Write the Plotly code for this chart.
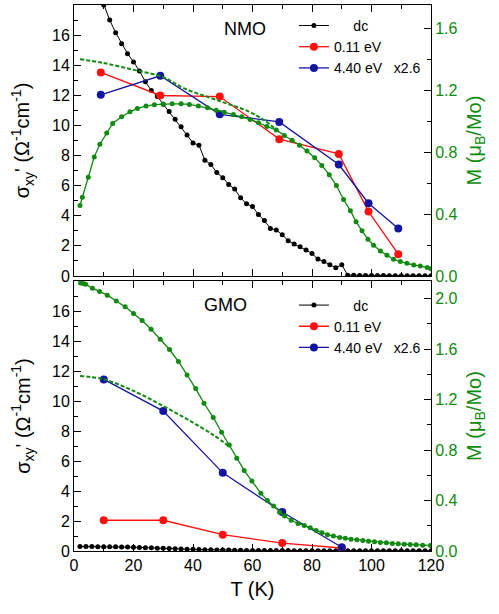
import plotly.graph_objects as go

# ---------------- NMO (top panel) ----------------
nmo_dc_T = [8, 10, 12, 14, 16, 18, 20, 22, 24, 26, 28, 30, 32, 34, 36, 38, 40, 42, 44, 46, 48, 50,
            52, 54, 56, 58, 60, 62, 64, 66, 68, 70, 72, 74, 76, 78, 80, 82, 84, 86, 88, 90, 92,
            94, 96, 98, 100, 102, 104, 106, 108, 110, 112, 114, 116, 118, 120]
nmo_dc_v = [19.1, 18.0, 17.0, 16.16, 15.42, 14.77, 14.22, 13.62, 12.9, 12.32, 11.92, 11.41, 10.92,
            10.41, 9.91, 9.36, 8.84, 8.69, 7.69, 7.40, 6.87, 6.53, 6.08, 5.77, 5.19, 4.79, 4.61,
            4.08, 3.68, 3.16, 3.05, 2.74, 2.34, 2.12, 1.94, 1.72, 1.49, 1.12, 0.96, 0.74, 0.55,
            0.74, 0.05, 0.05, 0.04, 0.04, 0.03, 0.03, 0.03, 0.02, 0.02, 0.02, 0.02, 0.02, 0.02,
            0.02, 0.02]

nmo_opt_T = [9, 29, 49, 69, 89, 99, 109]
nmo_011 = [13.52, 11.99, 11.92, 9.09, 8.11, 4.28, 1.45]
nmo_440 = [12.03, 13.30, 10.74, 10.23, 7.40, 4.83, 3.16]

nmo_M_T = [2.0, 2.8, 4.8, 6.8, 8.7, 11.0, 13.0, 16.0, 18.8, 21.3, 24.2, 27.0, 29.9, 33.0, 36.0,
           38.8, 41.8, 44.9, 47.8, 50.5, 53.6, 56.4, 59.2, 62.0, 64.8, 68.0, 70.7, 73.3, 75.8,
           78.3, 80.9, 83.3, 85.8, 88.2, 90.6, 92.9, 94.8, 96.8, 98.8, 100.7, 103.0, 105.2,
           107.4, 109.7, 111.9, 114.2, 116.4, 118.7, 120.0]
nmo_M = [0.455, 0.508, 0.638, 0.768, 0.851, 0.924, 0.985, 1.028, 1.060, 1.082, 1.097, 1.106,
         1.110, 1.112, 1.112, 1.108, 1.097, 1.086, 1.071, 1.058, 1.043, 1.028, 1.011, 0.989,
         0.966, 0.942, 0.907, 0.877, 0.844, 0.807, 0.764, 0.714, 0.654, 0.584, 0.494, 0.422,
         0.351, 0.292, 0.238, 0.199, 0.162, 0.134, 0.108, 0.093, 0.082, 0.071, 0.065, 0.054,
         0.047]

nmo_fit_T = [2, 10, 20, 30, 37, 48, 59, 64, 68]
nmo_fit_M = [1.40, 1.375, 1.331, 1.284, 1.212, 1.136, 1.060, 1.005, 0.945]

# ---------------- GMO (bottom panel) ----------------
gmo_dc_T = [2, 4, 6, 8, 10, 12, 14, 16, 18, 20, 22, 24, 26, 28, 30, 32, 34, 36, 38, 40, 42, 44,
            46, 48, 50, 52, 54, 56, 58, 60, 62, 64, 66, 68, 70, 72, 74, 76, 78, 80, 82, 84, 86,
            88, 90, 92, 94, 96, 98, 100, 102, 104, 106, 108, 110, 112, 114, 116, 118, 120]
gmo_dc_v = [0.30, 0.30, 0.30, 0.29, 0.29, 0.28, 0.28, 0.27, 0.26, 0.25, 0.24, 0.22, 0.21, 0.19,
            0.18, 0.16, 0.15, 0.13, 0.12, 0.11, 0.10, 0.09, 0.08, 0.07, 0.06, 0.06, 0.05, 0.05,
            0.04, 0.04, 0.03, 0.03, 0.03, 0.03, 0.03, 0.03, 0.02, 0.02, 0.02, 0.02, 0.02, 0.02,
            0.02, 0.02, 0.02, 0.02, 0.02, 0.02, 0.02, 0.02, 0.02, 0.02, 0.02, 0.02, 0.02, 0.02,
            0.02, 0.02, 0.02, 0.02]

gmo_opt_T = [10, 30, 50, 70, 90]
gmo_011 = [2.05, 2.05, 1.09, 0.53, 0.20]
gmo_440 = [11.44, 9.33, 5.21, 2.60, 0.25]

gmo_M_T = [2.2, 3.1, 3.9, 6.2, 8.6, 11.2, 14.2, 17.2, 20.0, 22.9, 25.9, 29.0, 32.1, 35.1, 38.0,
           40.9, 43.7, 46.8, 49.6, 52.2, 54.7, 57.2, 59.8, 62.8, 65.0, 67.1, 69.1, 70.8, 73.0,
           75.3, 77.4, 79.4, 81.4, 83.3, 85.2, 87.2, 89.3, 91.2, 93.1, 95.1, 97.1, 99.0, 101.0,
           103.0, 105.0, 107.0, 109.0, 111.0, 113.0, 115.0, 117.2, 119.8]
gmo_M = [2.124, 2.120, 2.115, 2.083, 2.057, 2.028, 1.982, 1.935, 1.882, 1.827, 1.758, 1.679,
         1.597, 1.502, 1.395, 1.287, 1.171, 1.059, 0.941, 0.840, 0.736, 0.639, 0.554, 0.457,
         0.401, 0.356, 0.308, 0.277, 0.244, 0.218, 0.203, 0.184, 0.163, 0.144, 0.129, 0.118,
         0.107, 0.102, 0.094, 0.089, 0.083, 0.078, 0.073, 0.067, 0.065, 0.059, 0.057, 0.054,
         0.051, 0.049, 0.046, 0.044]

gmo_fit_T = [2, 10, 20, 30, 39, 47, 52]
gmo_fit_M = [1.387, 1.361, 1.269, 1.149, 1.031, 0.917, 0.832]

NB = "\u00a0"
legend_names = [NB * 5 + "dc", "0.11 eV", "4.40 eV" + NB * 3 + "x2.6"]
left_ticks = [0, 2, 4, 6, 8, 10, 12, 14, 16]

BLACK = "#000000"
RED = "#ff1010"
BLUE = "#1414a0"
GREEN = "#108a10"
FONT = "Liberation Sans, Arial, sans-serif"

fig = go.Figure()

def add_panel(xa, ya_left, ya_right, legend, dcT, dcv, optT, v011, v440, MT, M, fT, fM):
    fig.add_trace(go.Scatter(x=dcT, y=dcv, mode="lines+markers", name=legend_names[0],
                             line=dict(color=BLACK, width=1), marker=dict(color=BLACK, size=5),
                             xaxis=xa, yaxis=ya_left, legend=legend))
    fig.add_trace(go.Scatter(x=optT, y=v011, mode="lines+markers", name=legend_names[1],
                             line=dict(color=RED, width=1.3), marker=dict(color=RED, size=8),
                             xaxis=xa, yaxis=ya_left, legend=legend))
    fig.add_trace(go.Scatter(x=optT, y=v440, mode="lines+markers", name=legend_names[2],
                             line=dict(color=BLUE, width=1.3), marker=dict(color=BLUE, size=8),
                             xaxis=xa, yaxis=ya_left, legend=legend))
    fig.add_trace(go.Scatter(x=fT, y=fM, mode="lines", showlegend=False,
                             line=dict(color=GREEN, width=2, dash="4px,2px", shape="spline"),
                             xaxis=xa, yaxis=ya_right))
    fig.add_trace(go.Scatter(x=MT, y=M, mode="lines+markers", showlegend=False,
                             line=dict(color=GREEN, width=1.3), marker=dict(color=GREEN, size=5),
                             xaxis=xa, yaxis=ya_right))

add_panel("x2", "y3", "y4", "legend", nmo_dc_T, nmo_dc_v, nmo_opt_T, nmo_011, nmo_440,
          nmo_M_T, nmo_M, nmo_fit_T, nmo_fit_M)
add_panel("x", "y", "y2", "legend2", gmo_dc_T, gmo_dc_v, gmo_opt_T, gmo_011, gmo_440,
          gmo_M_T, gmo_M, gmo_fit_T, gmo_fit_M)

TOP_DOM = [0.5037, 1.0]
BOT_DOM = [0.0, 0.4945]

xcommon = dict(range=[0, 120], dtick=20, ticks="inside", ticklen=7, tickcolor=BLACK,
               showline=True, linecolor=BLACK, linewidth=1, mirror="ticks", showgrid=False,
               zeroline=False, automargin=False,
               minor=dict(dtick=10, ticks="inside", ticklen=4, tickcolor=BLACK),
               tickfont=dict(size=16, color=BLACK))
yleft = dict(range=[0, 18], tickmode="array", tickvals=left_ticks, ticks="inside", ticklen=7,
             tickcolor=BLACK, showline=True, linecolor=BLACK, linewidth=1, showgrid=False,
             zeroline=False, automargin=False,
             minor=dict(tickmode="linear", tick0=0, dtick=1, ticks="inside", ticklen=4,
                        tickcolor=BLACK),
             tickfont=dict(size=16, color=BLACK),
             title=dict(text="σ<sub>xy</sub>' (Ω<sup>-1</sup>cm<sup>-1</sup>)", font=dict(size=20),
                        standoff=16))
yright = dict(dtick=0.4, tickformat=".1f", ticks="inside", ticklen=7, tickcolor=BLACK,
              showline=True, linecolor=BLACK, linewidth=1, showgrid=False, zeroline=False,
              automargin=False, side="right",
              minor=dict(dtick=0.2, ticks="inside", ticklen=4, tickcolor=BLACK),
              tickfont=dict(size=16, color=GREEN),
              title=dict(text="M (μ<sub>B</sub>/Mo)", font=dict(size=20, color=GREEN), standoff=10))

fig.update_layout(
    width=499, height=614,
    margin=dict(l=74, r=68, t=5, b=63),
    paper_bgcolor="white", plot_bgcolor="white",
    font=dict(family=FONT, color=BLACK),
    xaxis=dict(**xcommon, domain=[0, 1], anchor="y",
               title=dict(text="T (K)", font=dict(size=20), standoff=8)),
    xaxis2=dict(**xcommon, domain=[0, 1], anchor="y3", matches="x", showticklabels=False),
    yaxis=dict(**yleft, domain=BOT_DOM, anchor="x"),
    yaxis2=dict(**yright, range=[0, 2.14], overlaying="y", anchor="x"),
    yaxis3=dict(**yleft, domain=TOP_DOM, anchor="x2"),
    yaxis4=dict(**yright, range=[0, 1.75], overlaying="y3", anchor="x2"),
    legend=dict(x=0.616, y=0.991, xanchor="left", yanchor="top", bgcolor="rgba(0,0,0,0)",
                font=dict(size=14), itemwidth=30, tracegroupgap=0),
    legend2=dict(x=0.616, y=0.479, xanchor="left", yanchor="top", bgcolor="rgba(0,0,0,0)",
                 font=dict(size=14), itemwidth=30, tracegroupgap=0),
    showlegend=True,
)

fig.add_annotation(text="NMO", x=57.5, y=16.4, xref="x2", yref="y3", showarrow=False,
                   font=dict(size=18, color=BLACK))
fig.add_annotation(text="GMO", x=50.8, y=16.4, xref="x", yref="y", showarrow=False,
                   font=dict(size=18, color=BLACK))

fig.write_html("out.html", config={"displayModeBar": False},
               post_script="document.body.style.margin='0px';")
